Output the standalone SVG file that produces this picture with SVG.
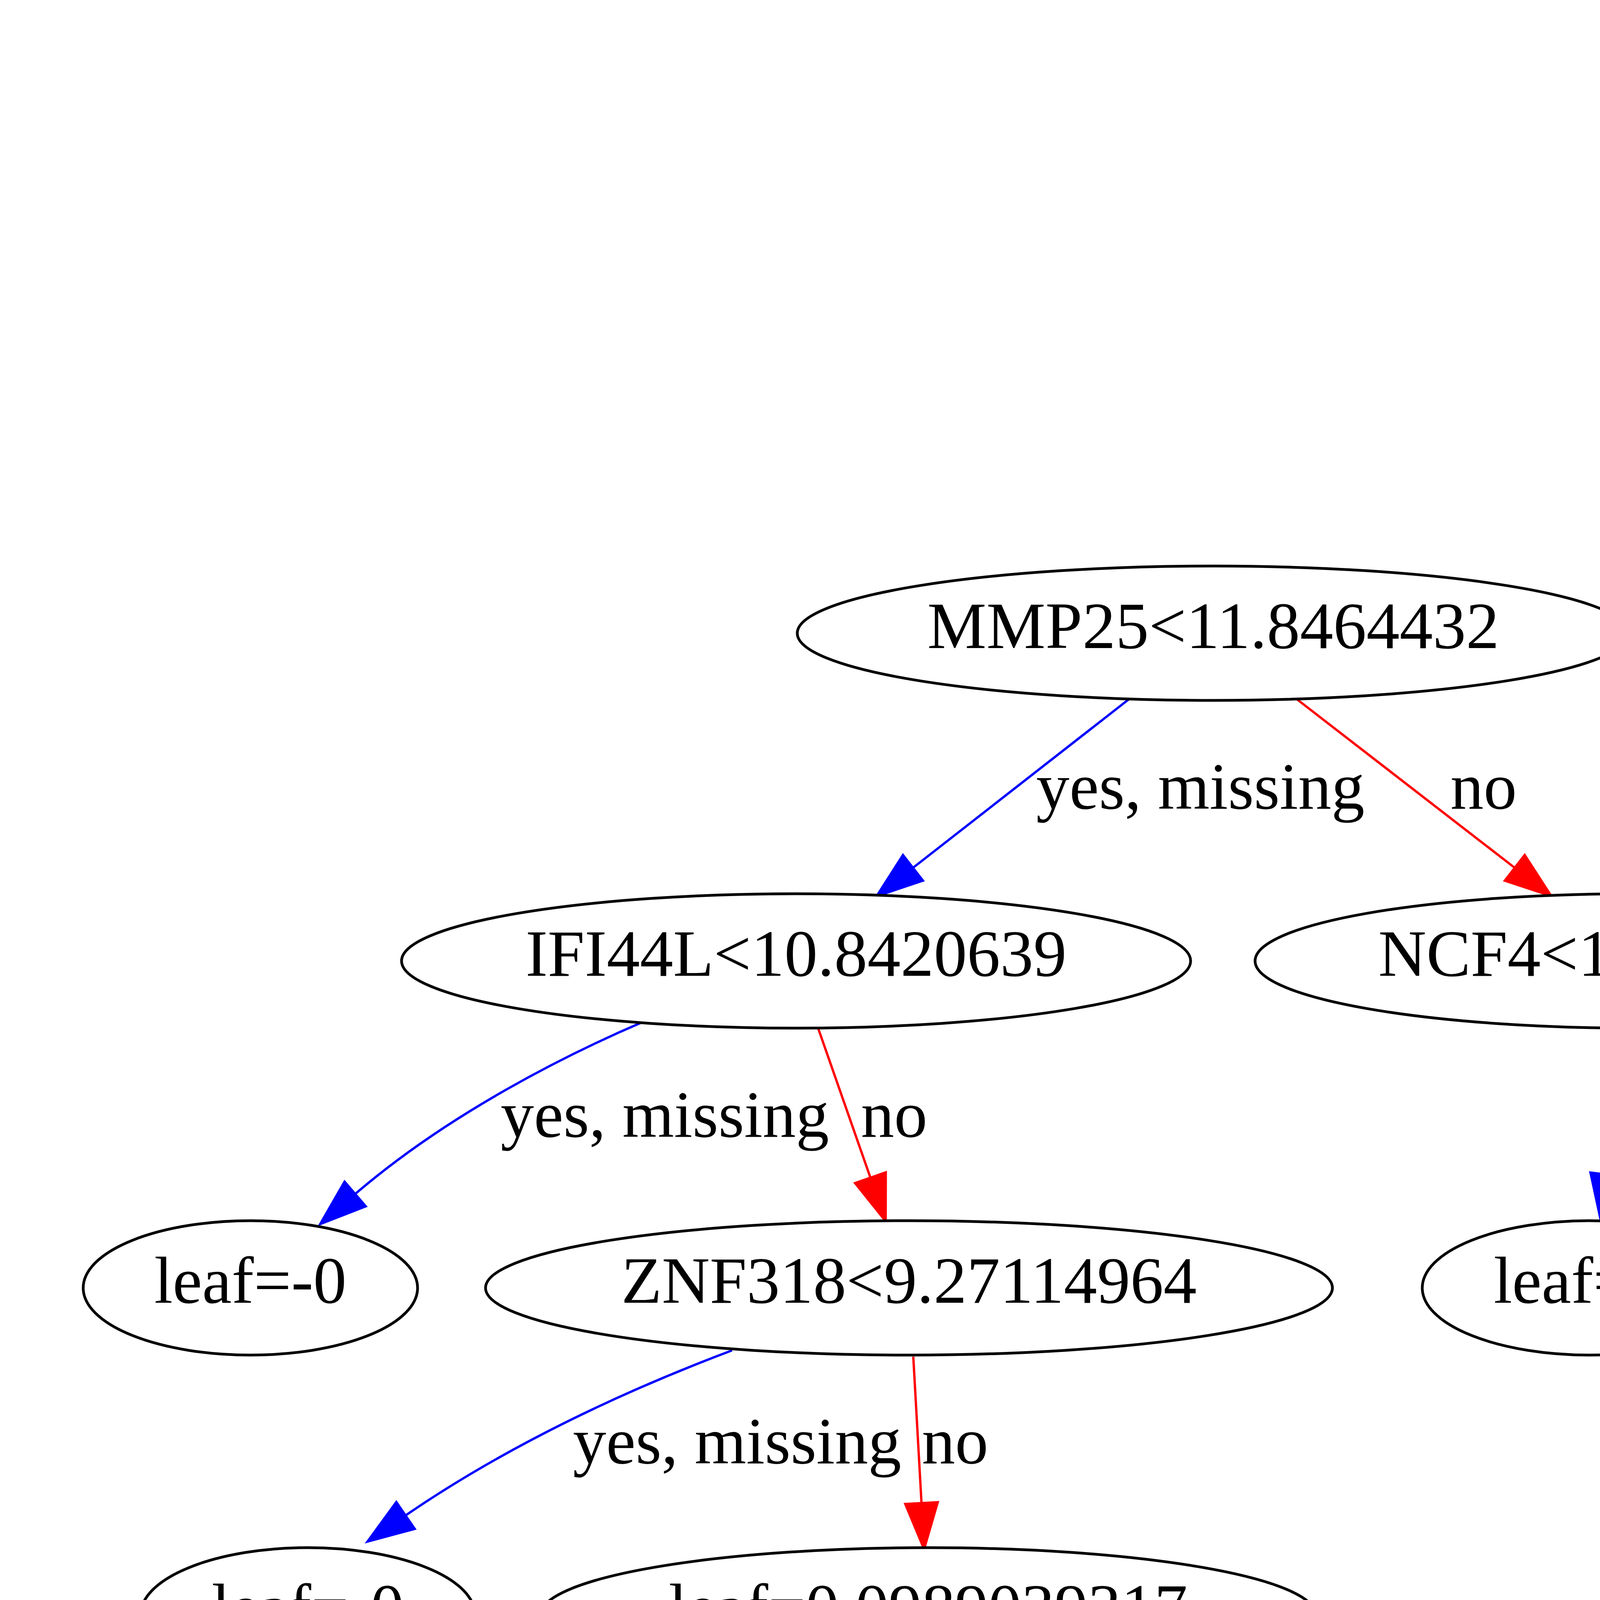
<svg xmlns="http://www.w3.org/2000/svg" width="7680" height="5760" viewBox="0 0 7680 5760">
<style>
.node ellipse{fill:#ffffff;stroke:#000000;stroke-width:7}
.node text{font-family:"Liberation Serif","Times New Roman",serif;font-size:170px;text-anchor:middle;fill:#000000}
.lbl{font-family:"Liberation Serif","Times New Roman",serif;font-size:170px;text-anchor:middle;fill:#000000}
.yes{fill:none;stroke:#0000ff;stroke-width:6;marker-end:url(#ab)}
.no{fill:none;stroke:#ff0000;stroke-width:6;marker-end:url(#ar)}
</style>
<defs>
<marker id="ab" markerUnits="userSpaceOnUse" markerWidth="140" markerHeight="100" refX="0" refY="45" orient="auto" overflow="visible">
<path d="M0,2 L122,45 L0,88 Z" fill="#0000ff" stroke="#0000ff" stroke-width="4"/>
</marker>
<marker id="ar" markerUnits="userSpaceOnUse" markerWidth="140" markerHeight="100" refX="0" refY="45" orient="auto" overflow="visible">
<path d="M0,2 L122,45 L0,88 Z" fill="#ff0000" stroke="#ff0000" stroke-width="4"/>
</marker>
</defs>
<rect x="0" y="0" width="7680" height="5760" fill="#ffffff"/>
<g id="edges">
<path class="yes" d="M2890,1790 L2338,2221"/>
<text class="lbl" x="3073" y="2070">yes, missing</text>
<path class="no" d="M3320,1790 L3877,2221"/>
<text class="lbl" x="3798" y="2070">no</text>
<path class="yes" d="M1646,2616 C1450,2700 1150,2850 910,3056"/>
<text class="lbl" x="1702" y="2910">yes, missing</text>
<path class="no" d="M2094,2631 L2228,3014"/>
<text class="lbl" x="2289" y="2910">no</text>
<path class="yes" d="M4161,2631 L4113,3006"/>
<text class="lbl" x="4559" y="2910">yes, missing</text>
<path class="no" d="M4626,2613 C4800,2690 5200,2880 5374,3036"/>
<text class="lbl" x="5330" y="2910">no</text>
<path class="yes" d="M1874,3457 C1600,3560 1300,3700 1039,3879"/>
<text class="lbl" x="1887" y="3746">yes, missing</text>
<path class="no" d="M2338,3473 L2359,3847"/>
<text class="lbl" x="2445" y="3746">no</text>
<path class="yes" d="M5464,3469 L5055,3886"/>
<text class="lbl" x="5708" y="3746">yes, missing</text>
<path class="no" d="M5946,3460 C6080,3540 6260,3650 6340,3853"/>
<text class="lbl" x="6370" y="3746">no</text>
</g>
<g id="n0" class="node"><ellipse cx="3106" cy="1621" rx="1065" ry="172"/><text x="3106" y="1659">MMP25&lt;11.8464432</text></g>
<g id="n1" class="node"><ellipse cx="2038" cy="2460" rx="1010" ry="172"/><text x="2038" y="2498">IFI44L&lt;10.8420639</text></g>
<g id="n2" class="node"><ellipse cx="4185" cy="2460" rx="972" ry="172"/><text x="4185" y="2498">NCF4&lt;11.2648048</text></g>
<g id="n3" class="node"><ellipse cx="641" cy="3297" rx="428" ry="172"/><text x="641" y="3335">leaf=-0</text></g>
<g id="n4" class="node"><ellipse cx="2327" cy="3297" rx="1084" ry="172"/><text x="2327" y="3335">ZNF318&lt;9.27114964</text></g>
<g id="n5" class="node"><ellipse cx="4070" cy="3297" rx="429" ry="172"/><text x="4070" y="3335">leaf=-0</text></g>
<g id="n6" class="node"><ellipse cx="5629" cy="3297" rx="965" ry="172"/><text x="5629" y="3335">PGS1&lt;9.20001984</text></g>
<g id="n7" class="node"><ellipse cx="788" cy="4134" rx="428" ry="172"/><text x="788" y="4172">leaf=-0</text></g>
<g id="n8" class="node"><ellipse cx="2376" cy="4134" rx="992" ry="172"/><text x="2376" y="4172">leaf=0.0989039317</text></g>
<g id="n9" class="node"><ellipse cx="4821" cy="4134" rx="430" ry="172"/><text x="4821" y="4172">leaf=-0</text></g>
<g id="n10" class="node"><ellipse cx="6436" cy="4134" rx="1021" ry="172"/><text x="6436" y="4172">leaf=-0.0531861745</text></g>
</svg>
